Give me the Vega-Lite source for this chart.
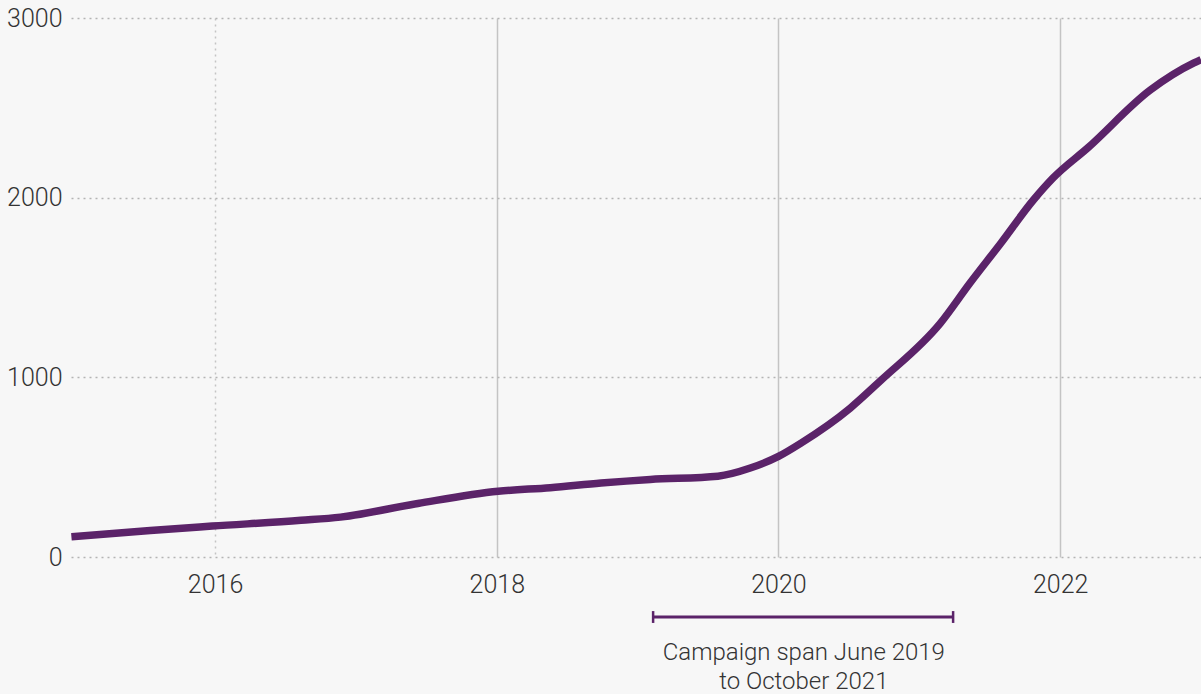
{
  "$schema": "https://vega.github.io/schema/vega-lite/v6.json",
  "width": 1130,
  "height": 539,
  "autosize": {"type": "none"},
  "padding": {"left": 71, "top": 18, "right": 0, "bottom": 137},
  "background": "#f7f7f7",
  "config": {
    "view": {"stroke": null},
    "font": "Roboto",
    "axis": {"labelFont": "Roboto", "labelFontWeight": 300, "labelColor": "#333333", "labelFontSize": 25}
  },
  "datasets": {
    "series": [
      {"year": 2014.98, "value": 112},
      {"year": 2015.54, "value": 148},
      {"year": 2015.98, "value": 172},
      {"year": 2016.61, "value": 204},
      {"year": 2016.89, "value": 222},
      {"year": 2017.44, "value": 298},
      {"year": 2018.01, "value": 366},
      {"year": 2018.38, "value": 386},
      {"year": 2018.74, "value": 412},
      {"year": 2019.09, "value": 432},
      {"year": 2019.57, "value": 450},
      {"year": 2019.8, "value": 495},
      {"year": 2020.0, "value": 560},
      {"year": 2020.16, "value": 634},
      {"year": 2020.51, "value": 829},
      {"year": 2020.73, "value": 985},
      {"year": 2021.15, "value": 1302},
      {"year": 2021.36, "value": 1525},
      {"year": 2021.58, "value": 1748},
      {"year": 2021.81, "value": 1987},
      {"year": 2021.95, "value": 2110},
      {"year": 2022.2, "value": 2280},
      {"year": 2022.64, "value": 2599},
      {"year": 2022.95, "value": 2750},
      {"year": 2023.0, "value": 2768}
    ],
    "span": [{"start": 2019.11, "end": 2021.24, "level": -334}],
    "caps": [
      {"at": 2019.11, "low": -367, "high": -301},
      {"at": 2021.24, "low": -367, "high": -301}
    ],
    "labels": [
      {"at": 2020.18, "level": -573, "text": "Campaign span June 2019"},
      {"at": 2020.18, "level": -734, "text": "to October 2021"}
    ]
  },
  "layer": [
    {
      "data": {"name": "series"},
      "mark": {"type": "line", "interpolate": "monotone", "color": "#5b2369", "strokeWidth": 7.5, "clip": false},
      "encoding": {
        "x": {
          "field": "year", "type": "quantitative", "title": null,
          "scale": {"domain": [2014.977, 2023], "nice": false, "zero": false},
          "axis": {
            "values": [2016, 2018, 2020, 2022], "format": "d",
            "domain": false, "ticks": false, "labelPadding": 15,
            "grid": true, "gridColor": "#c4c4c4", "gridWidth": 1.5,
            "gridDash": {"condition": {"test": "datum.value == 2016", "value": [2, 4]}, "value": []}
          }
        },
        "y": {
          "field": "value", "type": "quantitative", "title": null,
          "scale": {"domain": [0, 3000], "nice": false},
          "axis": {
            "values": [0, 1000, 2000, 3000], "format": "d",
            "domain": false, "ticks": false, "labelPadding": 9,
            "grid": true, "gridColor": "#b4b4b4", "gridWidth": 1.5, "gridDash": [2, 4]
          }
        }
      }
    },
    {
      "data": {"name": "span"},
      "mark": {"type": "rule", "color": "#5b2369", "strokeWidth": 3},
      "encoding": {
        "x": {"field": "start", "type": "quantitative"},
        "x2": {"field": "end"},
        "y": {"field": "level", "type": "quantitative"}
      }
    },
    {
      "data": {"name": "caps"},
      "mark": {"type": "rule", "color": "#5b2369", "strokeWidth": 2.5},
      "encoding": {
        "x": {"field": "at", "type": "quantitative"},
        "y": {"field": "low", "type": "quantitative"},
        "y2": {"field": "high"}
      }
    },
    {
      "data": {"name": "labels"},
      "mark": {"type": "text", "font": "Roboto", "fontWeight": 300, "fontSize": 24, "color": "#333333", "align": "center", "baseline": "alphabetic"},
      "encoding": {
        "x": {"field": "at", "type": "quantitative"},
        "y": {"field": "level", "type": "quantitative"},
        "text": {"field": "text"}
      }
    }
  ]
}
